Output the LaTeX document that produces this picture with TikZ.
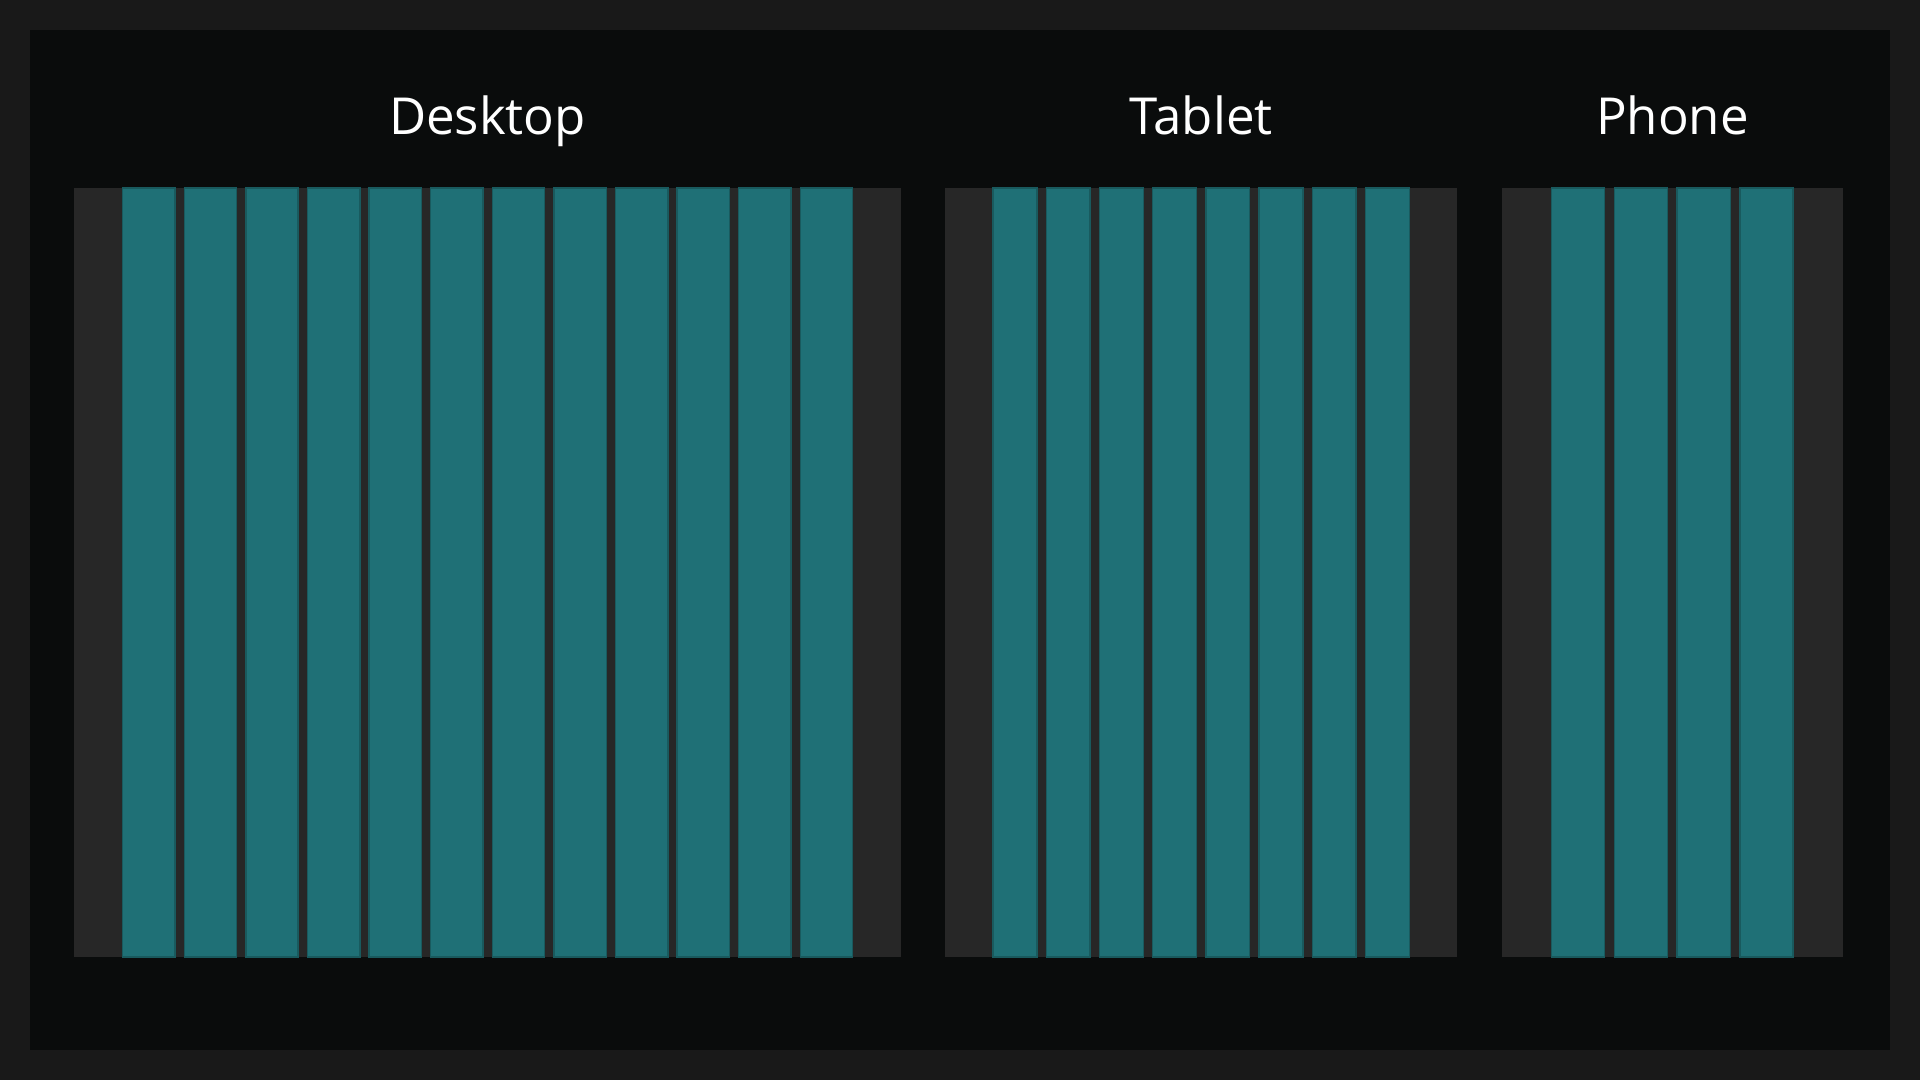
\documentclass[tikz,border=0pt]{standalone}
\usepackage{fontspec}
\setmainfont{Open Sans}
\usetikzlibrary{positioning}
\definecolor{frame}{HTML}{191919}
\definecolor{canvas}{HTML}{0A0C0C}
\definecolor{margin}{HTML}{272727}
\definecolor{column}{HTML}{1F7076}
\tikzset{
	x=0.01cm, y=-0.01cm,
	panel/.style={fill=margin, draw=none, inner sep=0pt, outer sep=0pt, anchor=north west},
	col/.style={fill=column, draw=column!80!black, line width=0.4pt},
	title/.style={text=white, anchor=base, font=\fontsize{14.5}{17}\selectfont},
}
\begin{document}
\begin{tikzpicture}
	% background and frame
	\fill[frame] (0,0) rectangle (1920,1080);
	\fill[canvas] (30,30) rectangle (1890,1050);
	\useasboundingbox (0,0) rectangle (1920,1080);

	% panels
	\node[panel, minimum width=8.27cm, minimum height=7.69cm] (desk) at (74,188) {};
	\node[panel, minimum width=5.12cm, minimum height=7.69cm] (tab) at (945,188) {};
	\node[panel, minimum width=3.41cm, minimum height=7.69cm] (phone) at (1502,188) {};

	% columns
	\foreach \i in {0,...,11}
		\draw[col] (122.7+61.6*\i,188) rectangle ++(52.3,769);
	\foreach \i in {0,...,7}
		\draw[col] (993+53.2*\i,188) rectangle ++(43.9,769);
	\foreach \i in {0,...,3}
		\draw[col] (1551.3+62.9*\i,188) rectangle ++(53.1,769);

	% titles
	\node[title] (deskT) at (487.5,134.5) {Desktop};
	\node[title] (tabT) at (1201,134.5) {Tablet};
	\node[title] (phoneT) at (1672.5,134.5) {Phone};
\end{tikzpicture}
\end{document}
